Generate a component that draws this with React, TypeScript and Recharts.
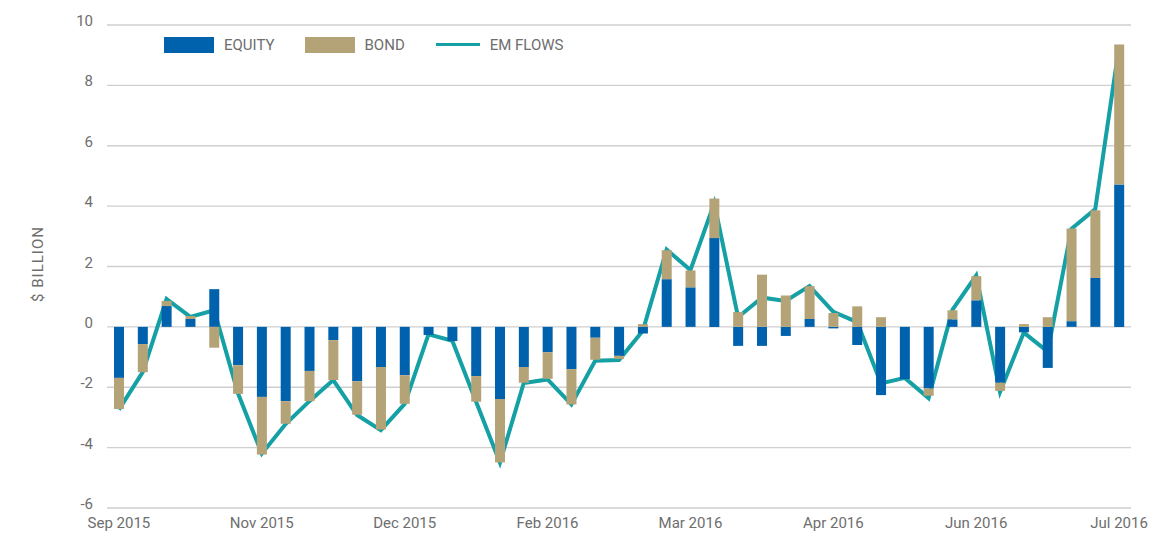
import { ComposedChart, Bar, Line, XAxis, YAxis, CartesianGrid } from 'recharts'

const weeks = [
  'Sep 30, 2015', 'Oct 7, 2015', 'Oct 14, 2015', 'Oct 21, 2015', 'Oct 28, 2015', 'Nov 4, 2015',
  'Nov 11, 2015', 'Nov 18, 2015', 'Nov 25, 2015', 'Dec 2, 2015', 'Dec 9, 2015', 'Dec 16, 2015',
  'Dec 23, 2015', 'Dec 30, 2015', 'Jan 6, 2016', 'Jan 13, 2016', 'Jan 20, 2016', 'Jan 27, 2016',
  'Feb 3, 2016', 'Feb 10, 2016', 'Feb 17, 2016', 'Feb 24, 2016', 'Mar 2, 2016', 'Mar 9, 2016',
  'Mar 16, 2016', 'Mar 23, 2016', 'Mar 30, 2016', 'Apr 6, 2016', 'Apr 13, 2016', 'Apr 20, 2016',
  'Apr 27, 2016', 'May 4, 2016', 'May 11, 2016', 'May 18, 2016', 'May 25, 2016', 'Jun 1, 2016',
  'Jun 8, 2016', 'Jun 15, 2016', 'Jun 22, 2016', 'Jun 29, 2016', 'Jul 6, 2016', 'Jul 13, 2016',
  'Jul 20, 2016',
]

const equity = [
  -1.69, -0.57, 0.69, 0.26, 1.25, -1.27, -2.32, -2.46, -1.46, -0.44, -1.8, -1.33,
  -1.6, -0.27, -0.47, -1.63, -2.39, -1.33, -0.84, -1.4, -0.36, -0.96, -0.22, 1.58,
  1.31, 2.94, -0.63, -0.63, -0.3, 0.26, -0.05, -0.6, -2.26, -1.73, -2.04, 0.25,
  0.88, -1.85, -0.18, -1.36, 0.19, 1.62, 4.72,
]

const bond = [
  -1.03, -0.93, 0.17, 0.1, -0.69, -0.95, -1.91, -0.75, -1.0, -1.32, -1.11, -2.07,
  -0.95, 0, 0, -0.85, -2.1, -0.52, -0.88, -1.17, -0.73, -0.1, 0.09, 0.96,
  0.56, 1.31, 0.49, 1.73, 1.04, 1.09, 0.46, 0.68, 0.32, 0, -0.24, 0.3,
  0.8, -0.27, 0.09, 0.32, 3.07, 2.24, 4.63,
]

const emFlows = [
  -2.74, -1.5, 0.92, 0.33, 0.55, -2.2, -4.2, -3.22, -2.46, -1.76, -2.92, -3.42,
  -2.55, -0.25, -0.46, -2.48, -4.5, -1.86, -1.74, -2.57, -1.12, -1.1, -0.13, 2.56,
  1.88, 4.1, 0.32, 0.97, 0.86, 1.35, 0.5, 0.16, -1.87, -1.69, -2.36, 0.56,
  1.7, -2.16, -0.19, -0.82, 3.25, 3.9, 9.3,
]

const yTicks = [-6, -4, -2, 0, 2, 4, 6, 8, 10]

const data = weeks.map((week, i) => ({
  week,
  equity: equity[i],
  bond: bond[i],
  emFlows: emFlows[i],
}))

const BLUE = '#0062ad'
const TAN = '#b4a377'
const TEAL = '#14a0a4'
const TEXT = '#6e6e6e'
const FONT = 'Roboto, "Liberation Sans", sans-serif'

function YTick({ x, y, payload }: any) {
  return (
    <text x={x} y={y + 1} textAnchor="end" fill={TEXT} fontSize={15} fontFamily={FONT}>
      {payload.value}
    </text>
  )
}

function LegendBox() {
  const label = { color: TEXT, fontSize: 15, fontFamily: FONT, marginLeft: 10 }
  return (
    <div style={{ position: 'absolute', top: 28, left: 156, display: 'flex', alignItems: 'center', height: 17 }}>
      <span style={{ width: 50, height: 16, background: BLUE }} />
      <span style={label}>EQUITY</span>
      <span style={{ width: 50, height: 16, background: TAN, marginLeft: 30 }} />
      <span style={label}>BOND</span>
      <span style={{ width: 44, height: 3, background: TEAL, marginLeft: 31 }} />
      <span style={label}>EM FLOWS</span>
    </div>
  )
}

export default function App() {
  return (
    <div style={{ position: 'relative', width: 1157, height: 528 }}>
      <ComposedChart
        width={1157}
        height={528}
        data={data}
        stackOffset="sign"
        margin={{ top: 17, right: 34, bottom: 0, left: 0 }}
      >
        <CartesianGrid vertical={false} stroke="#cfcfcf" strokeWidth={1.3} />
        <XAxis
          dataKey="week"
          interval={5}
          tickLine={false}
          axisLine={false}
          height={28}
          tickMargin={3}
          tick={{ fill: TEXT, fontSize: 15, fontFamily: FONT }}
          tickFormatter={(v: string) => v.replace(/ \d+,/, '')}
        />
        <YAxis
          width={99}
          domain={[-6, 10]}
          ticks={yTicks}
          interval={0}
          tickLine={false}
          axisLine={false}
          tickMargin={8}
          tick={<YTick />}
          label={{
            content: () => (
              <text
                x={30}
                y={256}
                transform="rotate(-90 30 256)"
                textAnchor="middle"
                dominantBaseline="central"
                fill={TEXT}
                fontSize={15}
                letterSpacing={1}
                fontFamily={FONT}
              >
                $ BILLION
              </text>
            ),
          }}
        />
        <Line
          type="linear"
          dataKey="emFlows"
          name="EM FLOWS"
          stroke={TEAL}
          strokeWidth={4}
          dot={false}
          activeDot={false}
          zIndex={250}
          isAnimationActive={false}
        />
        <Bar dataKey="equity" name="EQUITY" stackId="a" fill={BLUE} barSize={10} zIndex={400} isAnimationActive={false} />
        <Bar dataKey="bond" name="BOND" stackId="a" fill={TAN} barSize={10} zIndex={400} isAnimationActive={false} />
      </ComposedChart>
      <LegendBox />
    </div>
  )
}
